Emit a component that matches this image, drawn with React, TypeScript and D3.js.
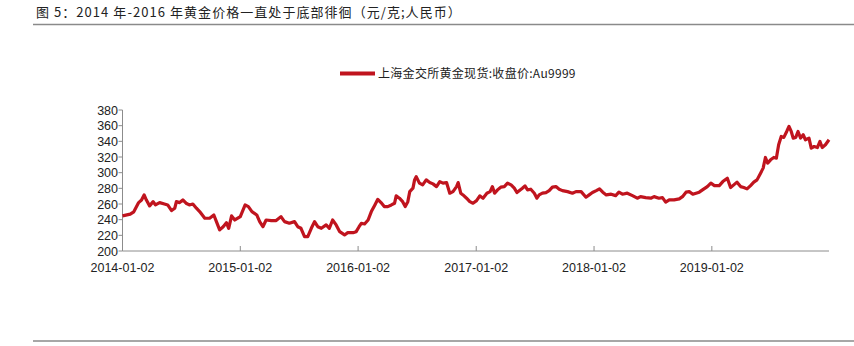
import React from "react";
import * as d3 from "d3";

const TITLE = "图 5：2014 年-2016 年黄金价格一直处于底部徘徊（元/克;人民币）";
const SERIES_NAME = "上海金交所黄金现货:收盘价:Au9999";
const X_TICKS = ["2014-01-02", "2015-01-02", "2016-01-02", "2017-01-02", "2018-01-02", "2019-01-02"];
const Y_TICKS = [200, 220, 240, 260, 280, 300, 320, 340, 360, 380];

const DATES = [
  "2014-01-02","2014-01-26","2014-02-06","2014-02-21","2014-03-02","2014-03-10","2014-03-17","2014-03-27",
  "2014-04-07","2014-04-14","2014-04-27","2014-05-12","2014-05-22","2014-06-03","2014-06-13","2014-06-18",
  "2014-06-28","2014-07-08","2014-07-18","2014-07-28","2014-08-08","2014-08-19","2014-08-29","2014-09-14",
  "2014-09-29","2014-10-12","2014-10-20","2014-10-30","2014-11-10","2014-11-20","2014-11-27","2014-12-06",
  "2014-12-16","2015-01-02","2015-01-17","2015-01-27","2015-02-07","2015-02-22","2015-03-03","2015-03-13",
  "2015-03-23","2015-04-08","2015-04-23","2015-05-08","2015-05-19","2015-06-03","2015-06-19","2015-06-29",
  "2015-07-09","2015-07-20","2015-07-30","2015-08-10","2015-08-20","2015-08-30","2015-09-10","2015-09-25",
  "2015-10-05","2015-10-15","2015-10-26","2015-11-06","2015-11-21","2015-12-01","2015-12-17","2015-12-27",
  "2016-01-05","2016-01-12","2016-01-22","2016-02-02","2016-02-12","2016-02-23","2016-03-03","2016-03-13",
  "2016-03-23","2016-04-03","2016-04-14","2016-04-24","2016-04-29","2016-05-09","2016-05-19","2016-05-27",
  "2016-06-04","2016-06-10","2016-06-20","2016-06-25","2016-06-30","2016-07-10","2016-07-20","2016-07-31",
  "2016-08-11","2016-08-21","2016-09-01","2016-09-11","2016-09-21","2016-10-02","2016-10-12","2016-10-22",
  "2016-11-02","2016-11-07","2016-11-15","2016-11-22","2016-12-03","2016-12-13","2016-12-23","2017-01-03",
  "2017-01-13","2017-01-23","2017-02-04","2017-02-14","2017-02-21","2017-02-28","2017-03-09","2017-03-19",
  "2017-03-30","2017-04-09","2017-04-20","2017-04-30","2017-05-08","2017-05-18","2017-05-25","2017-06-02",
  "2017-06-10","2017-06-20","2017-07-01","2017-07-09","2017-07-16","2017-07-26","2017-08-06","2017-08-16",
  "2017-08-26","2017-09-06","2017-09-16","2017-09-26","2017-10-12","2017-10-27","2017-11-07","2017-11-23",
  "2017-12-08","2017-12-18","2017-12-28","2018-01-09","2018-01-19","2018-01-29","2018-02-09","2018-02-24",
  "2018-03-10","2018-03-20","2018-03-31","2018-04-15","2018-05-01","2018-05-16","2018-05-26","2018-06-11",
  "2018-06-27","2018-07-07","2018-07-22","2018-08-02","2018-08-12","2018-08-23","2018-09-07","2018-09-23",
  "2018-10-03","2018-10-14","2018-10-24","2018-11-04","2018-11-14","2018-11-24","2018-12-04","2018-12-19",
  "2018-12-30","2019-01-10","2019-01-25","2019-02-05","2019-02-19","2019-03-01","2019-03-11","2019-03-21",
  "2019-04-01","2019-04-11","2019-04-21","2019-05-02","2019-05-12","2019-05-22","2019-06-02","2019-06-10",
  "2019-06-17","2019-06-24","2019-07-03","2019-07-13","2019-07-21","2019-07-28","2019-08-05","2019-08-13",
  "2019-08-22","2019-08-29","2019-09-05","2019-09-11","2019-09-19","2019-09-26","2019-10-04","2019-10-12",
  "2019-10-19","2019-10-30","2019-11-06","2019-11-15","2019-11-25","2019-12-03","2019-12-10","2019-12-20",
  "2019-12-31"
];

const PRICES = [
  244.8,247,250,261.8,265,271.6,265,257.6,
  263,258.8,261.8,260,258.8,251.6,254.6,263,
  261.8,265.2,261,258.8,260,254.6,250.3,241.8,
  241.8,246,237.5,226.9,231,236.2,229,244.8,
  239.6,243.9,258.8,256.7,250.3,246,237.5,231,
  239.6,238.8,238.8,243.9,237.5,235.4,237.5,231,
  229,218.3,218.3,229,237.5,231,229,233.3,
  229,239.6,233.3,224.7,220.5,223.4,223.4,224.7,
  231,235.4,234.5,239.6,250.3,258.8,266,261.8,
  256.7,256.7,258.8,261,270.3,267.4,263,256.7,
  263,275.8,280.2,290.8,295,286.6,284.4,290.8,
  287.4,285.7,282.2,288.6,286.6,287.4,273.8,275.8,
  282.2,287.4,273.8,271.6,267.4,263,261,264.3,
  270.3,267.4,273.8,275.8,282.2,273.8,278,281.5,
  282.2,286.6,284.4,280.2,274.6,278,280.2,283.1,
  278,278.9,273.8,267.4,271.6,273.8,274.6,277.1,
  281.5,282.2,278.9,277.1,275.8,273.8,275.8,275.8,
  268.7,271.6,274.6,277,279.3,275.1,271.6,272.5,
  270.7,275.1,272.5,273.8,270.7,267.4,269.4,268.2,
  267.4,269.4,267.4,268.2,262.3,265.2,265.2,266.5,
  269.4,275.1,275.8,272.5,273.8,275.1,278,282.2,
  286.6,283.5,283.5,288.6,293,281,284.4,287.9,
  282.2,281,279.3,283.5,287.9,290.8,299.4,305.8,
  319.4,312.2,316.4,319.4,318.6,335.6,346.2,345,
  352.6,359,352.6,344.1,345,352.6,344.1,348.4,
  342,344.1,331.3,333.4,332.1,339.8,332.1,335.6,
  342
];

export default function App() {
  const W = 854, H = 346;
  const parse = d3.timeParse("%Y-%m-%d");
  const data = DATES.map((d, i) => ({ date: parse(d) as Date, value: PRICES[i] }));
  const x = d3.scaleTime().domain([parse("2014-01-02") as Date, parse("2019-12-31") as Date]).range([122.5, 829]);
  const y = d3.scaleLinear().domain([200, 380]).range([251, 110]);
  const line = d3.line<{ date: Date; value: number }>().x(d => x(d.date)).y(d => y(d.value));
  const axisColor = "#8c8c8c";
  const font = "'Liberation Sans', Arial, sans-serif";
  const cjk = "'Noto Sans CJK SC', sans-serif";
  const x0 = x.range()[0];
  const x1 = x.range()[1];

  return (
    <svg width={W} height={H} style={{ position: "absolute", left: 0, top: 0, background: "#fff" }}>
      <text x={36} y={17} fontFamily={cjk} fontSize={13} letterSpacing={1.05} fill="#222">{TITLE}</text>
      <line x1={33} x2={854} y1={24.5} y2={24.5} stroke="#8a8a8a" strokeWidth={1.5} />

      <line x1={340} x2={375} y1={73.5} y2={73.5} stroke="#c0141e" strokeWidth={4} />
      <text x={378} y={78} fontFamily={cjk} fontSize={12} letterSpacing={0.3} fill="#222">{SERIES_NAME}</text>

      {/* y axis */}
      <line x1={x0} x2={x0} y1={y(380)} y2={y(200)} stroke={axisColor} strokeWidth={1} />
      {Y_TICKS.map(t => (
        <g key={t}>
          <line x1={x0 - 4} x2={x0} y1={y(t)} y2={y(t)} stroke={axisColor} strokeWidth={1} />
          <text x={118} y={y(t) + 4.5} textAnchor="end" fontFamily={font} fontSize={12.5} fill="#222">{t}</text>
        </g>
      ))}

      {/* x axis */}
      <line x1={x0} x2={x1} y1={y(200)} y2={y(200)} stroke={axisColor} strokeWidth={1} />
      {X_TICKS.map(t => {
        const px = x(parse(t) as Date);
        return (
          <g key={t}>
            <line x1={px} x2={px} y1={y(200) - 5} y2={y(200)} stroke={axisColor} strokeWidth={1} />
            <text x={px} y={271.5} textAnchor="middle" fontFamily={font} fontSize={12.5} fill="#222">{t}</text>
          </g>
        );
      })}

      <path d={line(data) || ""} fill="none" stroke="#c0141e" strokeWidth={3.2} strokeLinejoin="round" />

      <line x1={33} x2={854} y1={341} y2={341} stroke="#8a8a8a" strokeWidth={1.5} />
    </svg>
  );
}
